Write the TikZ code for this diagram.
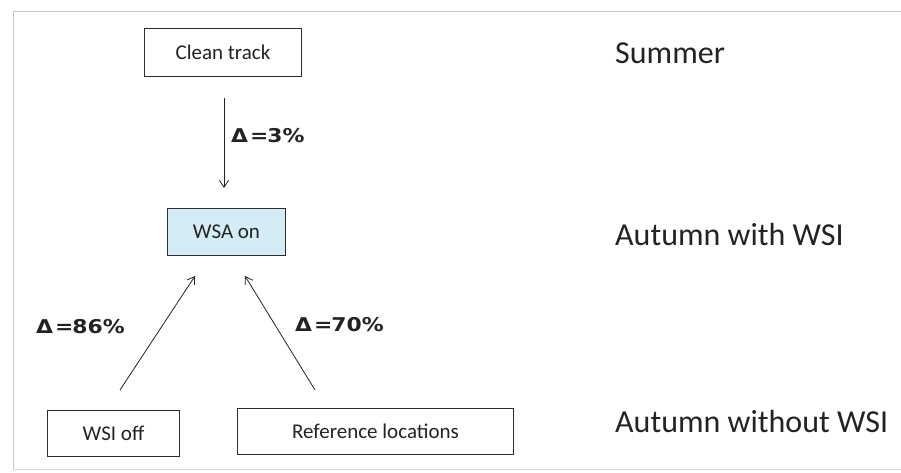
\documentclass[tikz,border=0pt]{standalone}
\usepackage{fontspec}
\setmainfont{Carlito}
\newfontfamily\deltafont[FakeStretch=1.15]{DejaVu Sans}
\usetikzlibrary{arrows.meta}
\definecolor{boxline}{RGB}{45,45,45}
\definecolor{boxblue}{RGB}{212,236,245}
\definecolor{framegray}{RGB}{200,200,200}
\definecolor{inkdark}{RGB}{35,35,35}
\tikzset{
  stagebox/.style={draw=boxline, line width=1pt, fill=white, text=inkdark,
    font=\fontsize{21}{25}\selectfont, inner sep=0pt, anchor=north west},
  season/.style={anchor=west, text=inkdark, font=\fontsize{32}{36}\selectfont, inner sep=0pt},
  delta/.style={text=inkdark, font=\deltafont\bfseries\fontsize{19}{23}\selectfont, inner sep=0pt},
  link/.style={draw=inkdark, line width=0.8pt, -{Straight Barb[length=7pt,width=9pt,line width=0.8pt]}}
}
\begin{document}
\begin{tikzpicture}[x=1pt,y=1pt]
  \useasboundingbox (0,0) rectangle (901,472);
  % page frame
  \draw[framegray, line width=1pt] (13,2) -- (13,460) -- (901,460);
  \draw[framegray!70, line width=0.8pt] (13,3) -- (901,3);

  % stages
  \node[stagebox, minimum width=157pt, minimum height=48pt] (clean) at (144,444) {Clean track};
  \node[stagebox, fill=boxblue, minimum width=118pt, minimum height=47pt] (wsa) at (167,264) {WSA on};
  \node[stagebox, minimum width=132pt, minimum height=46pt] (wsioff) at (47,62) {WSI off};
  \node[stagebox, minimum width=276pt, minimum height=46pt] (refloc) at (237,64) {Reference locations};

  % seasons
  \node[season] (summer) at (615,419) {Summer};
  \node[season] (autwith) at (615,237) {Autumn with WSI};
  \node[season] (autwithout) at (615,50) {Autumn without WSI};

  % arrow end points
  \coordinate (c1) at (224,374);
  \coordinate (c2) at (224,284);
  \coordinate (l1) at (120,82);
  \coordinate (l2) at (195,196);
  \coordinate (r1) at (315,82);
  \coordinate (r2) at (245,196);

  \draw[link] (c1) -- (c2);
  \draw[link] (l1) -- (l2);
  \draw[link] (r1) -- (r2);

  % differences
  \node[delta, anchor=west] (d3) at (231,336) {Δ\kern2pt=\kern-1pt3\%};
  \node[delta, anchor=west] (d86) at (36,145) {Δ\kern2pt=\kern-1pt86\%};
  \node[delta, anchor=west] (d70) at (295,147) {Δ\kern2pt=\kern-1pt70\%};
\end{tikzpicture}
\end{document}
